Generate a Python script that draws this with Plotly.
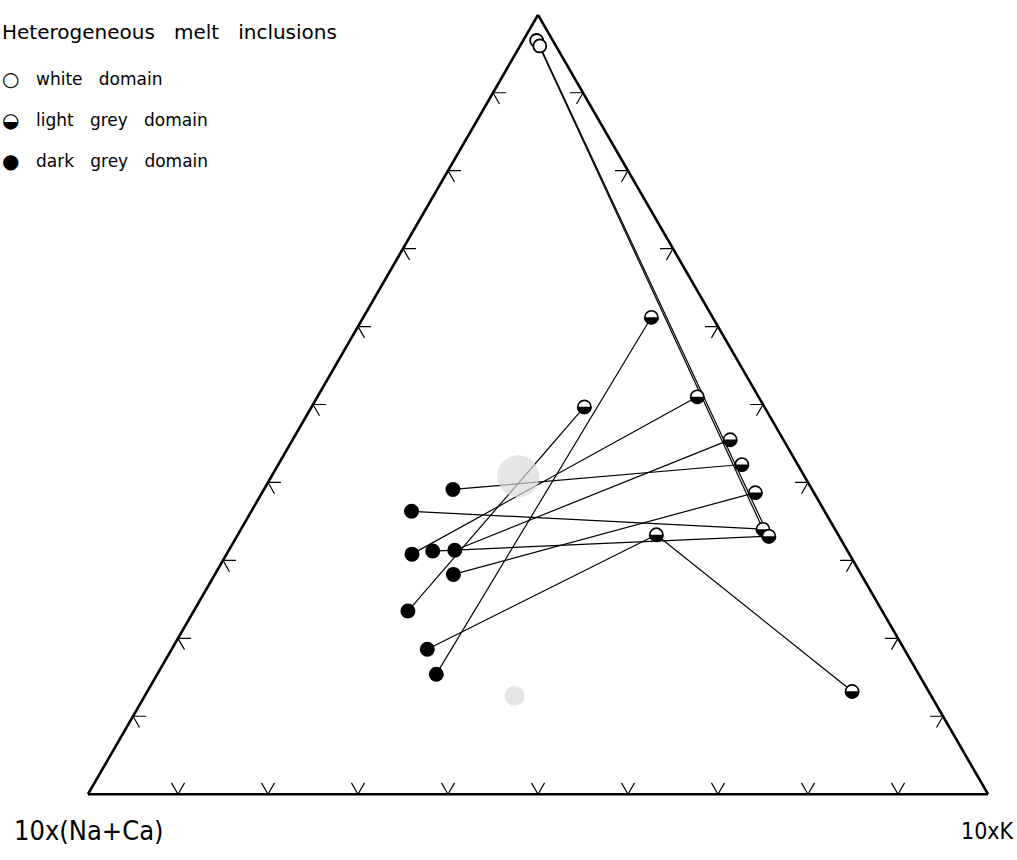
import numpy as np
import plotly.graph_objects as go

# Ternary compositions in percent: a = top apex, b = 10x(Na+Ca), c = 10xK
white_a = [96.7, 96.0]
white_b = [1.8, 1.8]
white_c = [1.5, 2.2]

light_a = [61.2, 49.7, 51.0, 45.5, 42.3, 38.7, 34.0, 33.1, 33.3, 13.2]
light_b = [6.8, 20.0, 6.8, 5.9, 6.2, 6.5, 8.0, 7.8, 20.2, 8.5]
light_c = [32.0, 30.3, 42.2, 48.6, 51.5, 54.8, 58.0, 59.1, 46.5, 78.3]

dark_a = [39.1, 36.3, 30.8, 31.2, 31.3, 28.2, 23.5, 18.6, 15.4]
dark_b = [39.9, 45.9, 48.6, 46.1, 43.6, 45.3, 52.7, 53.0, 53.6]
dark_c = [21.0, 17.8, 20.6, 22.7, 25.1, 26.5, 23.8, 28.4, 31.0]

# stippled reference fields
field_a = [40.8, 12.6]
field_b = [31.8, 46.3]
field_c = [27.4, 41.1]
field_size = [42, 20]

# tie lines joining domains of the same inclusion (index pairs)
white_light_ties = [(0, 6), (1, 7)]
light_dark_ties = [(6, 1), (7, 3), (0, 8), (1, 6), (2, 2), (3, 4), (4, 0), (5, 5), (8, 7)]
light_light_ties = [(8, 9)]

TICK_VALS = [10, 20, 30, 40, 50, 60, 70, 80, 90]
TICK_LEN = 1.45      # chevron arm length, percent of the side
HALF_R = 0.80        # radius of the black lower half, percent of the side

white = list(zip(white_a, white_b, white_c))
light = list(zip(light_a, light_b, light_c))
dark = list(zip(dark_a, dark_b, dark_c))

fig = go.Figure()

# chevron ticks: short grid-direction arms at every 10 % on each side
ta, tb, tc = [], [], []
for t in TICK_VALS:
    d = TICK_LEN
    # bottom side (a = 0)
    for p in [(d, 100 - t, t - d), (0, 100 - t, t), (d, 100 - t - d, t)]:
        ta.append(p[0]); tb.append(p[1]); tc.append(p[2])
    ta.append(None); tb.append(None); tc.append(None)
    # left side (c = 0)
    for p in [(t, 100 - t - d, d), (t, 100 - t, 0), (t - d, 100 - t, d)]:
        ta.append(p[0]); tb.append(p[1]); tc.append(p[2])
    ta.append(None); tb.append(None); tc.append(None)
    # right side (b = 0)
    for p in [(t, d, 100 - t - d), (t, 0, 100 - t), (t - d, d, 100 - t)]:
        ta.append(p[0]); tb.append(p[1]); tc.append(p[2])
    ta.append(None); tb.append(None); tc.append(None)

fig.add_trace(go.Scatterternary(
    a=ta, b=tb, c=tc, mode="lines", cliponaxis=False,
    line=dict(color="black", width=1.2), hoverinfo="skip"))

# tie lines
la, lb, lc = [], [], []
for group, (src, dst) in [(white_light_ties, (white, light)),
                          (light_dark_ties, (light, dark)),
                          (light_light_ties, (light, light))]:
    for i, j in group:
        for p in (src[i], dst[j]):
            la.append(p[0]); lb.append(p[1]); lc.append(p[2])
        la.append(None); lb.append(None); lc.append(None)

fig.add_trace(go.Scatterternary(
    a=la, b=lb, c=lc, mode="lines", cliponaxis=False,
    line=dict(color="black", width=1.2), hoverinfo="skip"))

# stippled fields
fig.add_trace(go.Scatterternary(
    a=field_a, b=field_b, c=field_c, mode="markers", cliponaxis=False,
    marker=dict(symbol="circle", size=field_size, color="#dadada",
                line=dict(width=0)),
    name="fields"))

# dark grey domain
fig.add_trace(go.Scatterternary(
    a=dark_a, b=dark_b, c=dark_c, mode="markers", cliponaxis=False,
    marker=dict(symbol="circle", size=15, color="black", line=dict(width=0)),
    name="dark grey domain"))

# white domain
fig.add_trace(go.Scatterternary(
    a=white_a, b=white_b, c=white_c, mode="markers", cliponaxis=False,
    marker=dict(symbol="circle", size=13, color="white",
                line=dict(color="black", width=1.8)),
    name="white domain"))

# light grey domain: open circle with a filled lower half
theta = np.linspace(np.pi, 2 * np.pi, 25)
for (a0, b0, c0) in light:
    fig.add_trace(go.Scatterternary(
        a=[a0], b=[b0], c=[c0], mode="markers", cliponaxis=False,
        marker=dict(symbol="circle", size=13, color="white",
                    line=dict(color="black", width=1.6)),
        name="light grey domain"))
    dx = HALF_R * np.cos(theta)
    dy = HALF_R * np.sin(theta)
    da = dy * 2 / np.sqrt(3)
    dc = dx - da / 2
    db = -da - dc
    fig.add_trace(go.Scatterternary(
        a=list(a0 + da), b=list(b0 + db), c=list(c0 + dc),
        mode="lines", fill="toself", fillcolor="black", cliponaxis=False,
        line=dict(color="black", width=0.5), hoverinfo="skip"))

axis_style = dict(showline=True, linecolor="black", linewidth=2.6,
                  showgrid=False, showticklabels=False, ticks="",
                  title=dict(text=""))

FONT = "DejaVu Sans"
LABEL_FONT = "Liberation Sans Narrow, DejaVu Sans Condensed, Liberation Sans"
W, H = 1017, 860
ML, MR, MT, MB = 88, 29, 14, 65
PW, PH = W - ML - MR, H - MT - MB


def px(x):
    return (x - ML) / PW


def py(y):
    return (H - MB - y) / PH


NB = "\u00a0\u00a0\u00a0"
annotations = [
    dict(text=f"Heterogeneous{NB}melt{NB}inclusions", x=px(0), y=py(32),
         xanchor="left", yanchor="middle", font=dict(size=20)),
    dict(text="\u25CB", x=px(0), y=py(79), xanchor="left", yanchor="middle",
         font=dict(size=20)),
    dict(text="\u25D2", x=px(0), y=py(120), xanchor="left", yanchor="middle",
         font=dict(size=20)),
    dict(text="\u25CF", x=px(0), y=py(161), xanchor="left", yanchor="middle",
         font=dict(size=20)),
    dict(text=f"white{NB}domain", x=px(34), y=py(79), xanchor="left",
         yanchor="middle", font=dict(size=17)),
    dict(text=f"light{NB}grey{NB}domain", x=px(34), y=py(120),
         xanchor="left", yanchor="middle", font=dict(size=17)),
    dict(text=f"dark{NB}grey{NB}domain", x=px(34), y=py(161),
         xanchor="left", yanchor="middle", font=dict(size=17)),
    dict(text="10x(Na+Ca)", x=px(12), y=py(831), xanchor="left", yanchor="middle",
         font=dict(size=27, family=LABEL_FONT)),
    dict(text="10xK", x=px(1016), y=py(831), xanchor="right", yanchor="middle",
         font=dict(size=23, family=LABEL_FONT)),
]
for an in annotations:
    an.update(xref="paper", yref="paper", showarrow=False)

fig.update_layout(
    width=W, height=H,
    margin=dict(l=ML, r=MR, t=MT, b=MB),
    paper_bgcolor="white",
    showlegend=False,
    font=dict(family=FONT, color="black"),
    ternary=dict(sum=100, bgcolor="white",
                 aaxis=axis_style, baxis=axis_style, caxis=axis_style),
    annotations=annotations,
)

fig.write_html("out.html")
